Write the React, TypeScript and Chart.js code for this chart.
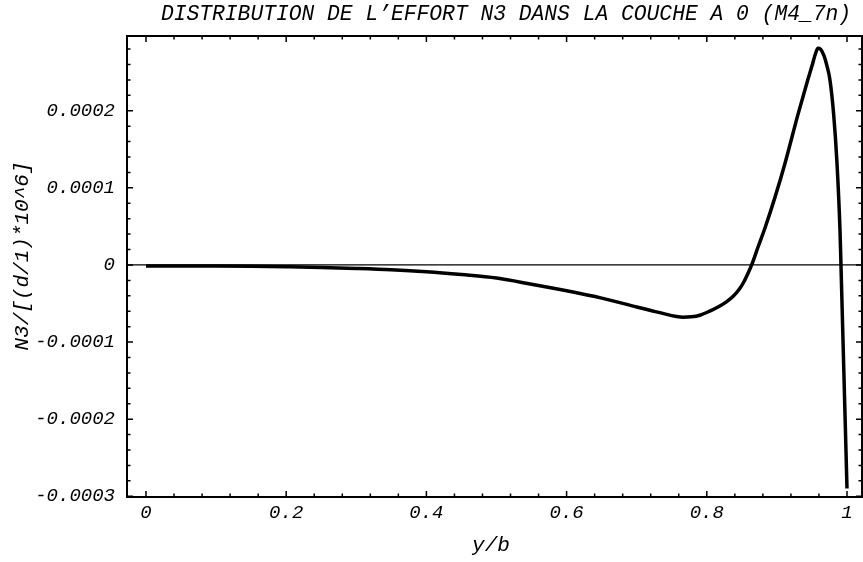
import React, { useEffect, useRef } from "react";
import { Chart, registerables } from "chart.js";

Chart.register(...registerables);

const TITLE = "DISTRIBUTION DE L\u2019EFFORT N3 DANS LA COUCHE A 0 (M4_7n)";
const X_TITLE = "y/b";
const Y_TITLE = "N3/[(d/1)*10^6]";

const xValues = [
  0, 0.05, 0.1, 0.15, 0.2, 0.25, 0.3, 0.35, 0.4, 0.45, 0.5, 0.55, 0.6, 0.65, 0.7,
  0.72, 0.74, 0.755, 0.766, 0.778, 0.79, 0.804, 0.816, 0.828, 0.838, 0.846, 0.853,
  0.859, 0.864, 0.873, 0.883, 0.897, 0.9116, 0.93, 0.944, 0.95, 0.955, 0.9586,
  0.962, 0.967, 0.9715, 0.9757, 0.981, 0.9857, 0.99, 0.9914, 1.0,
];
const n3Values = [
  -1.2e-6, -1.2e-6, -1.4e-6, -1.8e-6, -2.4e-6, -3.2e-6, -4.5e-6, -6.2e-6, -8.8e-6,
  -1.25e-5, -1.7e-5, -2.5e-5, -3.35e-5, -4.3e-5, -5.45e-5, -5.9e-5, -6.35e-5,
  -6.65e-5, -6.78e-5, -6.73e-5, -6.52e-5, -6.0e-5, -5.45e-5, -4.78e-5, -4.03e-5,
  -3.19e-5, -2.18e-5, -1.04e-5, 0, 2.3e-5, 4.8e-5, 8.7e-5, 1.32e-4, 1.95e-4, 2.4e-4,
  2.58e-4, 2.74e-4, 2.81e-4, 2.8e-4, 2.72e-4, 2.58e-4, 2.4e-4, 1.95e-4, 1.325e-4,
  4.55e-5, 0, -2.9e-4,
];

const xTickValues = [0, 0.2, 0.4, 0.6, 0.8, 1];
const xTickLabels = ["0", "0.2", "0.4", "0.6", "0.8", "1"];
const yTickValues = [-0.0003, -0.0002, -0.0001, 0, 0.0001, 0.0002];
const yTickLabels = ["-0.0003", "-0.0002", "-0.0001", "0", "0.0001", "0.0002"];
const xMinorStep = 0.04;
const yMinorStep = 0.00002;

const X_MIN = -0.0271;
const X_MAX = 1.0214;
const Y_MIN = -0.000301;
const Y_MAX = 0.000297;

const FONT = '"Liberation Mono", "Courier New", monospace';

const framePlugin = {
  id: "mathFrame",
  beforeDatasetsDraw(chart: any) {
    const { ctx, chartArea, scales } = chart;
    const y0 = scales.y.getPixelForValue(0);
    ctx.save();
    ctx.strokeStyle = "#000";
    ctx.lineWidth = 1.2;
    ctx.beginPath();
    ctx.moveTo(chartArea.left, y0);
    ctx.lineTo(chartArea.right, y0);
    ctx.stroke();
    ctx.restore();
  },
  afterDraw(chart: any) {
    const { ctx, chartArea, scales } = chart;
    const { left, right, top, bottom } = chartArea;
    const xs = scales.x;
    const ys = scales.y;
    ctx.save();
    ctx.strokeStyle = "#000";
    ctx.lineWidth = 2;
    ctx.strokeRect(left, top, right - left, bottom - top);

    ctx.lineWidth = 1.5;
    const major = 6;
    const minor = 3.5;
    for (let i = 0; ; i++) {
      const v = i * xMinorStep;
      if (v > X_MAX) break;
      const isMajor = xTickValues.some((t) => Math.abs(t - v) < 1e-9);
      const len = isMajor ? major : minor;
      const px = xs.getPixelForValue(v);
      ctx.beginPath();
      ctx.moveTo(px, bottom);
      ctx.lineTo(px, bottom - len);
      ctx.moveTo(px, top);
      ctx.lineTo(px, top + len);
      ctx.stroke();
    }
    for (let i = 0; ; i++) {
      const vv = yTickValues[0] + i * yMinorStep;
      if (vv > Y_MAX) break;
      const isMajor = yTickValues.some((t) => Math.abs(t - vv) < 1e-10);
      const len = isMajor ? major : minor;
      const py = ys.getPixelForValue(vv);
      ctx.beginPath();
      ctx.moveTo(left, py);
      ctx.lineTo(left + len, py);
      ctx.moveTo(right, py);
      ctx.lineTo(right - len, py);
      ctx.stroke();
    }

    ctx.fillStyle = "#000";
    ctx.font = `italic 19px ${FONT}`;
    ctx.textAlign = "center";
    ctx.textBaseline = "middle";
    xTickValues.forEach((v, i) => {
      ctx.fillText(xTickLabels[i], xs.getPixelForValue(v), bottom + 16);
    });
    ctx.textAlign = "right";
    yTickValues.forEach((v, i) => {
      ctx.fillText(yTickLabels[i], left - 12, ys.getPixelForValue(v));
    });
    ctx.font = `italic 21px ${FONT}`;
    ctx.textAlign = "center";
    ctx.fillText(X_TITLE, 491, bottom + 48);
    ctx.font = `italic 21.3px ${FONT}`;
    ctx.fillText(TITLE, 506, 14);
    ctx.font = `italic 21px ${FONT}`;
    ctx.save();
    ctx.translate(22, 256);
    ctx.rotate(-Math.PI / 2);
    ctx.fillText(Y_TITLE, 0, 0);
    ctx.restore();
    ctx.restore();
  },
};

export default function App() {
  const canvasRef = useRef<HTMLCanvasElement | null>(null);
  useEffect(() => {
    if (!canvasRef.current) return;
    const chart = new Chart(canvasRef.current, {
      type: "line",
      data: {
        datasets: [
          {
            data: xValues.map((x, i) => ({ x, y: n3Values[i] })),
            borderColor: "#000",
            borderWidth: 3.5,
            pointRadius: 0,
            fill: false,
            cubicInterpolationMode: "monotone",
          },
        ],
      },
      options: {
        animation: false,
        responsive: true,
        maintainAspectRatio: false,
        layout: { padding: { left: 127, top: 36, right: 1, bottom: 65 } },
        plugins: { legend: { display: false }, tooltip: { enabled: false }, title: { display: false } },
        scales: {
          x: { type: "linear", min: X_MIN, max: X_MAX, display: false },
          y: { type: "linear", min: Y_MIN, max: Y_MAX, display: false },
        },
      },
      plugins: [framePlugin],
    });
    return () => chart.destroy();
  }, []);
  return (
    <div style={{ position: "fixed", left: 0, top: 0, width: 863, height: 562, background: "#fff" }}>
      <canvas ref={canvasRef} />
    </div>
  );
}
